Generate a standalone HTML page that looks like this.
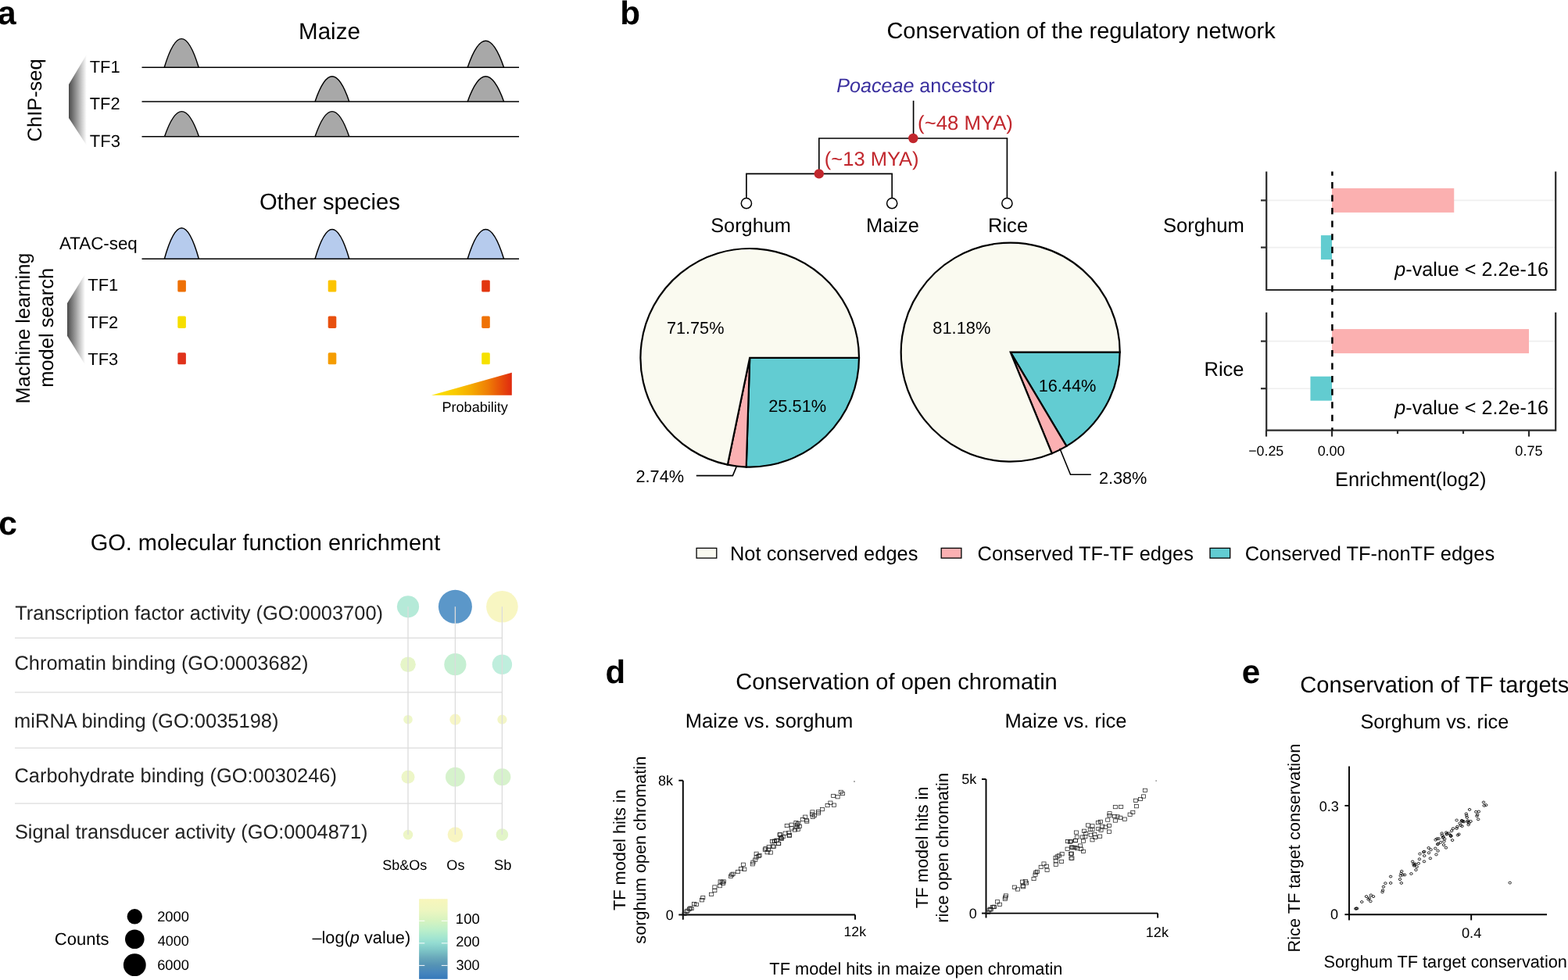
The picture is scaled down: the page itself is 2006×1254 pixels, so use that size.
<!DOCTYPE html>
<html><head><meta charset="utf-8"><title>Figure</title>
<style>html,body{margin:0;padding:0;background:#fff;}svg{display:block;}text{font-family:'Liberation Sans', Arial, Helvetica, sans-serif;text-rendering:geometricPrecision;}</style>
</head><body>
<svg width="2006" height="1254" viewBox="0 0 2006 1254" font-family="'Liberation Sans', Arial, Helvetica, sans-serif">
<rect width="2006" height="1254" fill="#fff"/>
<defs>
<linearGradient id="wedge" x1="0" y1="0" x2="1" y2="0">
<stop offset="0" stop-color="#4a4a4a"/><stop offset="0.45" stop-color="#9a9a9a"/><stop offset="1" stop-color="#ffffff"/>
</linearGradient>
<linearGradient id="prob" x1="0" y1="0" x2="1" y2="0"><stop offset="0" stop-color="#fbe600"/><stop offset="0.3" stop-color="#f9c900"/><stop offset="0.5" stop-color="#f5aa00"/><stop offset="0.7" stop-color="#ef7e05"/><stop offset="0.85" stop-color="#e85309"/><stop offset="1" stop-color="#e02a10"/></linearGradient>
<linearGradient id="cbar" x1="0" y1="0" x2="0" y2="1"><stop offset="0.000" stop-color="#f8f6bb"/><stop offset="0.143" stop-color="#edf6c0"/><stop offset="0.270" stop-color="#d6f3c0"/><stop offset="0.387" stop-color="#bcefca"/><stop offset="0.485" stop-color="#a3e5d0"/><stop offset="0.543" stop-color="#95ddd2"/><stop offset="0.631" stop-color="#80c8c8"/><stop offset="0.729" stop-color="#6aaabb"/><stop offset="0.826" stop-color="#5593b5"/><stop offset="0.924" stop-color="#4585bd"/><stop offset="1.000" stop-color="#3478ba"/></linearGradient>
</defs>
<text x="-3.01" y="30.90" font-size="42.500"><tspan font-weight="bold">a</tspan></text>
<text x="382.09" y="49.90" font-size="29.543">Maize</text>
<path d="M210.20,86.30 Q232.20,12.90 254.20,86.30 Z" fill="#a8a8a8"/>
<path d="M210.20,86.30 Q232.20,12.90 254.20,86.30" fill="none" stroke="#000" stroke-width="1.45"/>
<path d="M598.20,86.30 Q621.40,18.30 644.60,86.30 Z" fill="#a8a8a8"/>
<path d="M598.20,86.30 Q621.40,18.30 644.60,86.30" fill="none" stroke="#000" stroke-width="1.45"/>
<path d="M403.05,129.90 Q424.90,65.70 446.75,129.90 Z" fill="#a8a8a8"/>
<path d="M403.05,129.90 Q424.90,65.70 446.75,129.90" fill="none" stroke="#000" stroke-width="1.45"/>
<path d="M598.20,129.90 Q621.40,65.70 644.60,129.90 Z" fill="#a8a8a8"/>
<path d="M598.20,129.90 Q621.40,65.70 644.60,129.90" fill="none" stroke="#000" stroke-width="1.45"/>
<path d="M210.50,174.80 Q232.50,110.40 254.50,174.80 Z" fill="#a8a8a8"/>
<path d="M210.50,174.80 Q232.50,110.40 254.50,174.80" fill="none" stroke="#000" stroke-width="1.45"/>
<path d="M403.05,174.80 Q424.90,110.40 446.75,174.80 Z" fill="#a8a8a8"/>
<path d="M403.05,174.80 Q424.90,110.40 446.75,174.80" fill="none" stroke="#000" stroke-width="1.45"/>
<line x1="181.50" y1="86.30" x2="664.00" y2="86.30" stroke="#000" stroke-width="1.5" />
<line x1="181.50" y1="129.90" x2="664.00" y2="129.90" stroke="#000" stroke-width="1.5" />
<line x1="181.50" y1="174.80" x2="664.00" y2="174.80" stroke="#000" stroke-width="1.5" />
<text x="114.76" y="92.60" font-size="21.900">TF1</text>
<text x="114.76" y="140.10" font-size="21.839">TF2</text>
<text x="114.76" y="187.80" font-size="22.013">TF3</text>
<path d="M110.8,69.8 L88,108 L88,151 L110.8,186 Z" fill="url(#wedge)"/>
<text x="53.30" y="181.29" font-size="25.409" transform="rotate(-90 53.30 181.29)">ChIP-seq</text>
<text x="331.93" y="267.90" font-size="29.173">Other species</text>
<path d="M210.35,331.30 Q232.35,252.30 254.35,331.30 Z" fill="#b6cbed"/>
<path d="M210.35,331.30 Q232.35,252.30 254.35,331.30" fill="none" stroke="#000" stroke-width="1.45"/>
<path d="M403.05,331.30 Q424.90,255.90 446.75,331.30 Z" fill="#b6cbed"/>
<path d="M403.05,331.30 Q424.90,255.90 446.75,331.30" fill="none" stroke="#000" stroke-width="1.45"/>
<path d="M598.20,331.30 Q621.40,255.90 644.60,331.30 Z" fill="#b6cbed"/>
<path d="M598.20,331.30 Q621.40,255.90 644.60,331.30" fill="none" stroke="#000" stroke-width="1.45"/>
<line x1="181.50" y1="331.30" x2="664.00" y2="331.30" stroke="#000" stroke-width="1.5" />
<text x="76.00" y="319.00" font-size="22.370">ATAC-seq</text>
<rect x="227.30" y="358.40" width="10.60" height="15.20" fill="#ee7005" rx="1.6"/>
<rect x="419.70" y="358.40" width="10.60" height="15.20" fill="#fcc400" rx="1.6"/>
<rect x="616.20" y="358.40" width="10.60" height="15.20" fill="#e2360f" rx="1.6"/>
<rect x="227.30" y="404.50" width="10.60" height="15.40" fill="#f6de00" rx="1.6"/>
<rect x="419.70" y="404.50" width="10.60" height="15.40" fill="#e8500e" rx="1.6"/>
<rect x="616.20" y="404.50" width="10.60" height="15.40" fill="#ef7206" rx="1.6"/>
<rect x="227.30" y="451.30" width="10.60" height="15.00" fill="#e0321a" rx="1.6"/>
<rect x="419.70" y="451.30" width="10.60" height="15.00" fill="#f59d00" rx="1.6"/>
<rect x="616.20" y="451.30" width="10.60" height="15.00" fill="#f6e100" rx="1.6"/>
<text x="112.36" y="372.30" font-size="21.900">TF1</text>
<text x="112.36" y="420.20" font-size="21.900">TF2</text>
<text x="112.36" y="466.80" font-size="21.900">TF3</text>
<path d="M108.9,350.8 L86,388 L86,429.8 L108.9,466.8 Z" fill="url(#wedge)"/>
<text x="38.10" y="516.38" font-size="25.329" transform="rotate(-90 38.10 516.38)">Machine learning</text>
<text x="68.20" y="495.79" font-size="25.492" transform="rotate(-90 68.20 495.79)">model search</text>
<path d="M551.9,505.8 L654.8,476.8 L654.8,505.8 Z" fill="url(#prob)"/>
<text x="565.38" y="526.60" font-size="18.123">Probability</text>
<text x="793.36" y="30.80" font-size="42.279"><tspan font-weight="bold">b</tspan></text>
<text x="1134.44" y="49.40" font-size="28.966">Conservation of the regulatory network</text>
<text x="1070.21" y="118.30" font-size="25.135" fill="#3a2f9e"><tspan font-style="italic">Poaceae</tspan> ancestor</text>
<line x1="1168.60" y1="128.80" x2="1168.60" y2="177.00" stroke="#000" stroke-width="1.65" />
<line x1="1047.80" y1="177.00" x2="1288.40" y2="177.00" stroke="#000" stroke-width="1.65" stroke-linecap="square"/>
<line x1="1047.80" y1="177.00" x2="1047.80" y2="222.40" stroke="#000" stroke-width="1.65" />
<line x1="954.90" y1="222.40" x2="1141.20" y2="222.40" stroke="#000" stroke-width="1.65" stroke-linecap="square"/>
<line x1="954.90" y1="222.40" x2="954.90" y2="253.50" stroke="#000" stroke-width="1.65" />
<line x1="1141.20" y1="222.40" x2="1141.20" y2="253.50" stroke="#000" stroke-width="1.65" />
<line x1="1288.40" y1="177.00" x2="1288.40" y2="253.50" stroke="#000" stroke-width="1.65" />
<circle cx="954.90" cy="260.20" r="6.60" fill="#fff" stroke="#000" stroke-width="1.5"/>
<circle cx="1141.20" cy="260.20" r="6.60" fill="#fff" stroke="#000" stroke-width="1.5"/>
<circle cx="1288.40" cy="260.20" r="6.60" fill="#fff" stroke="#000" stroke-width="1.5"/>
<circle cx="1168.30" cy="177.00" r="6.20" fill="#c1272d" />
<circle cx="1047.80" cy="222.40" r="6.20" fill="#c1272d" />
<text x="1174.09" y="166.30" font-size="25.765" fill="#c1272d">(~48 MYA)</text>
<text x="1054.80" y="212.30" font-size="25.527" fill="#c1272d">(~13 MYA)</text>
<text x="909.21" y="296.70" font-size="25.311">Sorghum</text>
<text x="1108.01" y="296.70" font-size="25.463">Maize</text>
<text x="1264.00" y="296.70" font-size="25.560">Rice</text>
<path d="M959.20,457.80 L1099.00,457.80 A139.8,139.8 0 0 1 954.72,597.53 Z" fill="#62ccd2" stroke="#000" stroke-width="2.2" stroke-linejoin="miter"/>
<path d="M959.20,457.80 L954.72,597.53 A139.8,139.8 0 0 1 930.85,594.70 Z" fill="#fbb0b2" stroke="#000" stroke-width="2.2" stroke-linejoin="miter"/>
<path d="M959.20,457.80 L930.85,594.70 A139.8,139.8 0 1 1 1099.00,457.80 Z" fill="#fafaf0" stroke="#000" stroke-width="2.2" stroke-linejoin="miter"/>
<path d="M1292.70,450.60 L1432.70,450.60 A140,140 0 0 1 1364.42,570.83 Z" fill="#62ccd2" stroke="#000" stroke-width="2.2" stroke-linejoin="miter"/>
<path d="M1292.70,450.60 L1364.42,570.83 A140,140 0 0 1 1345.71,580.18 Z" fill="#fbb0b2" stroke="#000" stroke-width="2.2" stroke-linejoin="miter"/>
<path d="M1292.70,450.60 L1345.71,580.18 A140,140 0 1 1 1432.70,450.60 Z" fill="#fafaf0" stroke="#000" stroke-width="2.2" stroke-linejoin="miter"/>
<text x="852.98" y="426.80" font-size="21.660">71.75%</text>
<text x="983.18" y="526.80" font-size="21.841">25.51%</text>
<text x="813.48" y="616.80" font-size="21.749">2.74%</text>
<polyline points="890.8,608.6 937.4,608.6 942.1,597.4" fill="none" stroke="#000" stroke-width="1.6"/>
<text x="1193.32" y="426.80" font-size="21.858">81.18%</text>
<text x="1328.64" y="501.30" font-size="21.762">16.44%</text>
<text x="1405.98" y="618.60" font-size="21.676">2.38%</text>
<polyline points="1355.8,573.7 1369.5,607.2 1395.8,607.2" fill="none" stroke="#000" stroke-width="1.6"/>
<line x1="1621.00" y1="256.40" x2="1990.00" y2="256.40" stroke="#efefef" stroke-width="1.6" />
<line x1="1621.00" y1="316.60" x2="1990.00" y2="316.60" stroke="#efefef" stroke-width="1.6" />
<rect x="1704.00" y="240.90" width="156.24" height="31.00" fill="#fbb0b0" />
<rect x="1689.89" y="301.10" width="14.11" height="31.00" fill="#62ccd0" />
<path d="M1620.2,219.5 L1620.2,371.0 L1990.2,371.0 L1990.2,219.5" fill="none" stroke="#2b2b2b" stroke-width="2.2"/>
<line x1="1613.00" y1="256.40" x2="1620.20" y2="256.40" stroke="#2b2b2b" stroke-width="2.2" />
<line x1="1613.00" y1="316.60" x2="1620.20" y2="316.60" stroke="#2b2b2b" stroke-width="2.2" />
<text x="1784.29" y="353.30" font-size="25.187"><tspan font-style="italic">p</tspan>-value &lt; 2.2e-16</text>
<line x1="1621.00" y1="436.60" x2="1990.00" y2="436.60" stroke="#efefef" stroke-width="1.6" />
<line x1="1621.00" y1="497.20" x2="1990.00" y2="497.20" stroke="#efefef" stroke-width="1.6" />
<rect x="1704.00" y="421.10" width="252.00" height="31.00" fill="#fbb0b0" />
<rect x="1676.45" y="481.70" width="27.55" height="31.00" fill="#62ccd0" />
<path d="M1620.2,399.8 L1620.2,550.6 L1990.2,550.6 L1990.2,399.8" fill="none" stroke="#2b2b2b" stroke-width="2.2"/>
<line x1="1613.00" y1="436.60" x2="1620.20" y2="436.60" stroke="#2b2b2b" stroke-width="2.2" />
<line x1="1613.00" y1="497.20" x2="1620.20" y2="497.20" stroke="#2b2b2b" stroke-width="2.2" />
<text x="1784.29" y="529.80" font-size="25.187"><tspan font-style="italic">p</tspan>-value &lt; 2.2e-16</text>
<line x1="1704.40" y1="219.50" x2="1704.40" y2="551.00" stroke="#000" stroke-width="2.5" stroke-dasharray="8.2,8.34" stroke-dashoffset="3.04"/>
<line x1="1620.00" y1="550.60" x2="1620.00" y2="558.60" stroke="#2b2b2b" stroke-width="2.2" />
<line x1="1704.00" y1="550.60" x2="1704.00" y2="558.60" stroke="#2b2b2b" stroke-width="2.2" />
<line x1="1788.00" y1="550.60" x2="1788.00" y2="555.10" stroke="#2b2b2b" stroke-width="2.2" />
<line x1="1872.00" y1="550.60" x2="1872.00" y2="555.10" stroke="#2b2b2b" stroke-width="2.2" />
<line x1="1956.00" y1="550.60" x2="1956.00" y2="558.60" stroke="#2b2b2b" stroke-width="2.2" />
<text x="1597.16" y="582.50" font-size="17.848">−0.25</text>
<text x="1685.64" y="582.50" font-size="17.988">0.00</text>
<text x="1938.33" y="582.50" font-size="18.138">0.75</text>
<text x="1708.01" y="621.80" font-size="25.413">Enrichment(log2)</text>
<text x="1488.00" y="296.50" font-size="25.587">Sorghum</text>
<text x="1540.52" y="480.70" font-size="25.500">Rice</text>
<rect x="891.10" y="701.40" width="25.70" height="12.70" fill="#fafaf0" stroke="#000" stroke-width="1.3"/>
<text x="934.01" y="717.20" font-size="25.458">Not conserved edges</text>
<rect x="1204.20" y="701.40" width="25.70" height="12.70" fill="#fbb0b2" stroke="#000" stroke-width="1.3"/>
<text x="1250.61" y="717.20" font-size="25.429">Conserved TF-TF edges</text>
<rect x="1548.00" y="701.40" width="25.70" height="12.70" fill="#62ccd2" stroke="#000" stroke-width="1.3"/>
<text x="1592.71" y="717.20" font-size="25.483">Conserved TF-nonTF edges</text>
<text x="-1.68" y="684.30" font-size="42.500"><tspan font-weight="bold">c</tspan></text>
<text x="115.64" y="703.70" font-size="28.972">GO. molecular function enrichment</text>
<line x1="19.00" y1="816.30" x2="642.40" y2="816.30" stroke="#dcdcdc" stroke-width="1.3" />
<line x1="19.00" y1="885.90" x2="642.40" y2="885.90" stroke="#dcdcdc" stroke-width="1.3" />
<line x1="19.00" y1="957.20" x2="642.40" y2="957.20" stroke="#dcdcdc" stroke-width="1.3" />
<line x1="19.00" y1="1028.10" x2="642.40" y2="1028.10" stroke="#dcdcdc" stroke-width="1.3" />
<text x="19.30" y="792.50" font-size="25.414" fill="#222">Transcription factor activity (GO:0003700)</text>
<text x="18.51" y="857.00" font-size="25.430" fill="#222">Chromatin binding (GO:0003682)</text>
<text x="18.11" y="930.80" font-size="25.473" fill="#222">miRNA binding (GO:0035198)</text>
<text x="18.51" y="1001.40" font-size="25.419" fill="#222">Carbohydrate binding (GO:0030246)</text>
<text x="18.91" y="1072.50" font-size="25.407" fill="#222">Signal transducer activity (GO:0004871)</text>
<circle cx="522.00" cy="776.30" r="14.10" fill="#b5ead8" />
<circle cx="582.40" cy="776.30" r="21.50" fill="#5b97c9" />
<circle cx="642.40" cy="776.30" r="20.30" fill="#f8f6c2" />
<circle cx="522.00" cy="850.20" r="9.80" fill="#e6f5c8" />
<circle cx="582.40" cy="850.20" r="14.10" fill="#c5efd2" />
<circle cx="642.40" cy="850.20" r="12.70" fill="#bfeedd" />
<circle cx="522.00" cy="920.70" r="5.80" fill="#eef7c8" />
<circle cx="582.40" cy="920.70" r="7.10" fill="#f7f6c6" />
<circle cx="642.40" cy="920.70" r="6.10" fill="#f3f6c6" />
<circle cx="522.00" cy="994.20" r="8.50" fill="#edf6c7" />
<circle cx="582.40" cy="994.20" r="12.40" fill="#d6f2cc" />
<circle cx="642.40" cy="994.20" r="11.00" fill="#d7f2cc" />
<circle cx="522.00" cy="1068.10" r="6.30" fill="#edf6c6" />
<circle cx="582.40" cy="1068.10" r="9.80" fill="#f8f5c2" />
<circle cx="642.40" cy="1068.10" r="7.80" fill="#e2f5c8" />
<line x1="522.00" y1="776.30" x2="522.00" y2="1068.10" stroke="#dcdcdc" stroke-width="1.3" />
<line x1="582.40" y1="776.30" x2="582.40" y2="1068.10" stroke="#dcdcdc" stroke-width="1.3" />
<line x1="642.40" y1="776.30" x2="642.40" y2="1068.10" stroke="#dcdcdc" stroke-width="1.3" />
<text x="489.24" y="1113.20" font-size="18.033">Sb&amp;Os</text>
<text x="571.35" y="1113.20" font-size="18.088">Os</text>
<text x="631.93" y="1113.20" font-size="18.326">Sb</text>
<text x="69.87" y="1209.30" font-size="21.972">Counts</text>
<circle cx="172.30" cy="1172.80" r="9.70" fill="#000" />
<text x="201.14" y="1179.40" font-size="18.301">2000</text>
<circle cx="172.30" cy="1201.80" r="12.30" fill="#000" />
<text x="201.72" y="1210.20" font-size="18.040">4000</text>
<circle cx="172.30" cy="1234.70" r="14.40" fill="#000" />
<text x="201.14" y="1241.30" font-size="18.301">6000</text>
<text x="399.40" y="1207.20" font-size="21.765">–log(<tspan font-style="italic">p</tspan> value)</text>
<rect x="536.10" y="1150.30" width="36.50" height="102.50" fill="url(#cbar)" />
<line x1="536.10" y1="1178.30" x2="543.30" y2="1178.30" stroke="#fff" stroke-width="1" />
<line x1="564.80" y1="1178.30" x2="572.60" y2="1178.30" stroke="#fff" stroke-width="1" />
<line x1="536.10" y1="1206.90" x2="543.30" y2="1206.90" stroke="#fff" stroke-width="1" />
<line x1="564.80" y1="1206.90" x2="572.60" y2="1206.90" stroke="#fff" stroke-width="1" />
<line x1="536.10" y1="1235.40" x2="543.30" y2="1235.40" stroke="#fff" stroke-width="1" />
<line x1="564.80" y1="1235.40" x2="572.60" y2="1235.40" stroke="#fff" stroke-width="1" />
<text x="582.84" y="1181.50" font-size="18.532">100</text>
<text x="583.14" y="1211.40" font-size="18.351">200</text>
<text x="583.43" y="1241.30" font-size="18.173">300</text>
<text x="774.39" y="873.80" font-size="41.891"><tspan font-weight="bold">d</tspan></text>
<text x="941.24" y="881.60" font-size="29.044">Conservation of open chromatin</text>
<text x="876.80" y="931.40" font-size="25.576">Maize vs. sorghum</text>
<text x="1285.50" y="931.40" font-size="25.544">Maize vs. rice</text>
<path d="M873.8,998.7 L873.8,1170.5 L1094,1170.5" fill="none" stroke="#000" stroke-width="1.9"/>
<line x1="868.30" y1="998.70" x2="873.80" y2="998.70" stroke="#000" stroke-width="1.9" />
<line x1="868.30" y1="1170.50" x2="873.80" y2="1170.50" stroke="#000" stroke-width="1.9" />
<line x1="873.80" y1="1170.50" x2="873.80" y2="1176.80" stroke="#000" stroke-width="1.9" />
<line x1="1094.00" y1="1170.50" x2="1094.00" y2="1176.80" stroke="#000" stroke-width="1.9" />
<text x="842.11" y="1004.50" font-size="18.000">8k</text>
<text x="851.64" y="1176.80" font-size="18.000">0</text>
<text x="1079.49" y="1197.90" font-size="17.695">12k</text>
<text x="799.70" y="1165.04" font-size="21.771" transform="rotate(-90 799.70 1165.04)">TF model hits in</text>
<text x="825.90" y="1207.64" font-size="21.702" transform="rotate(-90 825.90 1207.64)">sorghum open chromatin</text>
<path d="M1261.5,997 L1261.5,1168.6 L1481.1,1168.6" fill="none" stroke="#000" stroke-width="1.9"/>
<line x1="1256.00" y1="997.00" x2="1261.50" y2="997.00" stroke="#000" stroke-width="1.9" />
<line x1="1256.00" y1="1168.60" x2="1261.50" y2="1168.60" stroke="#000" stroke-width="1.9" />
<line x1="1261.50" y1="1168.60" x2="1261.50" y2="1174.50" stroke="#000" stroke-width="1.9" />
<line x1="1481.10" y1="1168.60" x2="1481.10" y2="1174.50" stroke="#000" stroke-width="1.9" />
<text x="1230.21" y="1002.90" font-size="18.000">5k</text>
<text x="1239.64" y="1175.20" font-size="18.000">0</text>
<text x="1465.87" y="1198.60" font-size="18.014">12k</text>
<text x="1186.80" y="1162.14" font-size="21.885" transform="rotate(-90 1186.80 1162.14)">TF model hits in</text>
<text x="1212.80" y="1180.77" font-size="21.850" transform="rotate(-90 1212.80 1180.77)">rice open chromatin</text>
<text x="984.36" y="1247.20" font-size="21.774">TF model hits in maize open chromatin</text>
<rect x="873.03" y="1167.33" width="5.10" height="4.30" fill="none" stroke="#222" stroke-width="0.75"/>
<rect x="875.82" y="1164.12" width="5.10" height="4.30" fill="none" stroke="#222" stroke-width="0.75"/>
<rect x="877.21" y="1163.15" width="5.10" height="4.30" fill="none" stroke="#222" stroke-width="0.75"/>
<rect x="879.31" y="1161.05" width="5.10" height="4.30" fill="none" stroke="#222" stroke-width="0.75"/>
<rect x="880.70" y="1159.94" width="5.10" height="4.30" fill="none" stroke="#222" stroke-width="0.75"/>
<rect x="882.10" y="1160.36" width="5.10" height="4.30" fill="none" stroke="#222" stroke-width="0.75"/>
<rect x="885.58" y="1154.36" width="5.10" height="4.30" fill="none" stroke="#222" stroke-width="0.75"/>
<rect x="888.37" y="1155.19" width="5.10" height="4.30" fill="none" stroke="#222" stroke-width="0.75"/>
<rect x="895.35" y="1149.61" width="5.10" height="4.30" fill="none" stroke="#222" stroke-width="0.75"/>
<rect x="896.74" y="1146.41" width="5.10" height="4.30" fill="none" stroke="#222" stroke-width="0.75"/>
<rect x="907.62" y="1142.22" width="5.10" height="4.30" fill="none" stroke="#222" stroke-width="0.75"/>
<rect x="911.81" y="1137.34" width="5.10" height="4.30" fill="none" stroke="#222" stroke-width="0.75"/>
<rect x="911.81" y="1132.88" width="5.10" height="4.30" fill="none" stroke="#222" stroke-width="0.75"/>
<rect x="918.36" y="1131.48" width="5.10" height="4.30" fill="none" stroke="#222" stroke-width="0.75"/>
<rect x="919.06" y="1125.90" width="5.10" height="4.30" fill="none" stroke="#222" stroke-width="0.75"/>
<rect x="921.15" y="1126.46" width="5.10" height="4.30" fill="none" stroke="#222" stroke-width="0.75"/>
<rect x="923.25" y="1125.90" width="5.10" height="4.30" fill="none" stroke="#222" stroke-width="0.75"/>
<rect x="922.55" y="1128.27" width="5.10" height="4.30" fill="none" stroke="#222" stroke-width="0.75"/>
<rect x="932.31" y="1119.21" width="5.10" height="4.30" fill="none" stroke="#222" stroke-width="0.75"/>
<rect x="933.71" y="1117.11" width="5.10" height="4.30" fill="none" stroke="#222" stroke-width="0.75"/>
<rect x="935.10" y="1116.14" width="5.10" height="4.30" fill="none" stroke="#222" stroke-width="0.75"/>
<rect x="941.38" y="1113.35" width="5.10" height="4.30" fill="none" stroke="#222" stroke-width="0.75"/>
<rect x="945.56" y="1109.44" width="5.10" height="4.30" fill="none" stroke="#222" stroke-width="0.75"/>
<rect x="949.75" y="1110.14" width="5.10" height="4.30" fill="none" stroke="#222" stroke-width="0.75"/>
<rect x="948.35" y="1104.14" width="5.10" height="4.30" fill="none" stroke="#222" stroke-width="0.75"/>
<rect x="960.21" y="1103.58" width="5.10" height="4.30" fill="none" stroke="#222" stroke-width="0.75"/>
<rect x="960.91" y="1101.07" width="5.10" height="4.30" fill="none" stroke="#222" stroke-width="0.75"/>
<rect x="963.70" y="1098.00" width="5.10" height="4.30" fill="none" stroke="#222" stroke-width="0.75"/>
<rect x="965.09" y="1090.19" width="5.10" height="4.30" fill="none" stroke="#222" stroke-width="0.75"/>
<rect x="965.09" y="1094.80" width="5.10" height="4.30" fill="none" stroke="#222" stroke-width="0.75"/>
<rect x="967.88" y="1093.40" width="5.10" height="4.30" fill="none" stroke="#222" stroke-width="0.75"/>
<rect x="969.00" y="1092.42" width="5.10" height="4.30" fill="none" stroke="#222" stroke-width="0.75"/>
<rect x="976.25" y="1085.03" width="5.10" height="4.30" fill="none" stroke="#222" stroke-width="0.75"/>
<rect x="976.95" y="1083.64" width="5.10" height="4.30" fill="none" stroke="#222" stroke-width="0.75"/>
<rect x="979.04" y="1088.52" width="5.10" height="4.30" fill="none" stroke="#222" stroke-width="0.75"/>
<rect x="983.23" y="1088.80" width="5.10" height="4.30" fill="none" stroke="#222" stroke-width="0.75"/>
<rect x="980.44" y="1085.03" width="5.10" height="4.30" fill="none" stroke="#222" stroke-width="0.75"/>
<rect x="981.13" y="1081.54" width="5.10" height="4.30" fill="none" stroke="#222" stroke-width="0.75"/>
<rect x="986.02" y="1080.85" width="5.10" height="4.30" fill="none" stroke="#222" stroke-width="0.75"/>
<rect x="985.32" y="1074.57" width="5.10" height="4.30" fill="none" stroke="#222" stroke-width="0.75"/>
<rect x="988.11" y="1074.29" width="5.10" height="4.30" fill="none" stroke="#222" stroke-width="0.75"/>
<rect x="991.60" y="1073.17" width="5.10" height="4.30" fill="none" stroke="#222" stroke-width="0.75"/>
<rect x="993.69" y="1077.36" width="5.10" height="4.30" fill="none" stroke="#222" stroke-width="0.75"/>
<rect x="995.08" y="1065.92" width="5.10" height="4.30" fill="none" stroke="#222" stroke-width="0.75"/>
<rect x="996.48" y="1070.38" width="5.10" height="4.30" fill="none" stroke="#222" stroke-width="0.75"/>
<rect x="987.45" y="1081.17" width="5.10" height="4.30" fill="none" stroke="#222" stroke-width="0.75"/>
<rect x="988.29" y="1074.06" width="5.10" height="4.30" fill="none" stroke="#222" stroke-width="0.75"/>
<rect x="990.80" y="1073.22" width="5.10" height="4.30" fill="none" stroke="#222" stroke-width="0.75"/>
<rect x="993.31" y="1077.40" width="5.10" height="4.30" fill="none" stroke="#222" stroke-width="0.75"/>
<rect x="995.40" y="1065.68" width="5.10" height="4.30" fill="none" stroke="#222" stroke-width="0.75"/>
<rect x="996.66" y="1069.45" width="5.10" height="4.30" fill="none" stroke="#222" stroke-width="0.75"/>
<rect x="997.50" y="1071.13" width="5.10" height="4.30" fill="none" stroke="#222" stroke-width="0.75"/>
<rect x="999.17" y="1068.61" width="5.10" height="4.30" fill="none" stroke="#222" stroke-width="0.75"/>
<rect x="1002.10" y="1064.01" width="5.10" height="4.30" fill="none" stroke="#222" stroke-width="0.75"/>
<rect x="1006.70" y="1063.59" width="5.10" height="4.30" fill="none" stroke="#222" stroke-width="0.75"/>
<rect x="1007.12" y="1067.36" width="5.10" height="4.30" fill="none" stroke="#222" stroke-width="0.75"/>
<rect x="1007.54" y="1066.52" width="5.10" height="4.30" fill="none" stroke="#222" stroke-width="0.75"/>
<rect x="1004.19" y="1054.38" width="5.10" height="4.30" fill="none" stroke="#222" stroke-width="0.75"/>
<rect x="1010.05" y="1053.13" width="5.10" height="4.30" fill="none" stroke="#222" stroke-width="0.75"/>
<rect x="1010.47" y="1057.73" width="5.10" height="4.30" fill="none" stroke="#222" stroke-width="0.75"/>
<rect x="1014.24" y="1059.82" width="5.10" height="4.30" fill="none" stroke="#222" stroke-width="0.75"/>
<rect x="1015.91" y="1050.61" width="5.10" height="4.30" fill="none" stroke="#222" stroke-width="0.75"/>
<rect x="1016.75" y="1056.47" width="5.10" height="4.30" fill="none" stroke="#222" stroke-width="0.75"/>
<rect x="1017.59" y="1053.13" width="5.10" height="4.30" fill="none" stroke="#222" stroke-width="0.75"/>
<rect x="1018.84" y="1051.45" width="5.10" height="4.30" fill="none" stroke="#222" stroke-width="0.75"/>
<rect x="1020.52" y="1055.22" width="5.10" height="4.30" fill="none" stroke="#222" stroke-width="0.75"/>
<rect x="1018.43" y="1058.99" width="5.10" height="4.30" fill="none" stroke="#222" stroke-width="0.75"/>
<rect x="1024.29" y="1046.43" width="5.10" height="4.30" fill="none" stroke="#222" stroke-width="0.75"/>
<rect x="1027.63" y="1043.08" width="5.10" height="4.30" fill="none" stroke="#222" stroke-width="0.75"/>
<rect x="1029.31" y="1047.27" width="5.10" height="4.30" fill="none" stroke="#222" stroke-width="0.75"/>
<rect x="1029.73" y="1048.94" width="5.10" height="4.30" fill="none" stroke="#222" stroke-width="0.75"/>
<rect x="1036.84" y="1036.80" width="5.10" height="4.30" fill="none" stroke="#222" stroke-width="0.75"/>
<rect x="1036.42" y="1039.73" width="5.10" height="4.30" fill="none" stroke="#222" stroke-width="0.75"/>
<rect x="1037.26" y="1043.08" width="5.10" height="4.30" fill="none" stroke="#222" stroke-width="0.75"/>
<rect x="1039.35" y="1041.41" width="5.10" height="4.30" fill="none" stroke="#222" stroke-width="0.75"/>
<rect x="1044.38" y="1036.38" width="5.10" height="4.30" fill="none" stroke="#222" stroke-width="0.75"/>
<rect x="1044.38" y="1038.48" width="5.10" height="4.30" fill="none" stroke="#222" stroke-width="0.75"/>
<rect x="1049.40" y="1033.45" width="5.10" height="4.30" fill="none" stroke="#222" stroke-width="0.75"/>
<rect x="1056.10" y="1028.43" width="5.10" height="4.30" fill="none" stroke="#222" stroke-width="0.75"/>
<rect x="1059.87" y="1025.08" width="5.10" height="4.30" fill="none" stroke="#222" stroke-width="0.75"/>
<rect x="1064.47" y="1028.01" width="5.10" height="4.30" fill="none" stroke="#222" stroke-width="0.75"/>
<rect x="1063.63" y="1016.29" width="5.10" height="4.30" fill="none" stroke="#222" stroke-width="0.75"/>
<rect x="1069.07" y="1017.55" width="5.10" height="4.30" fill="none" stroke="#222" stroke-width="0.75"/>
<rect x="1073.26" y="1011.27" width="5.10" height="4.30" fill="none" stroke="#222" stroke-width="0.75"/>
<rect x="1075.35" y="1013.36" width="5.10" height="4.30" fill="none" stroke="#222" stroke-width="0.75"/>
<rect x="1261.37" y="1165.38" width="5.10" height="4.30" fill="none" stroke="#222" stroke-width="0.75"/>
<rect x="1262.98" y="1162.69" width="5.10" height="4.30" fill="none" stroke="#222" stroke-width="0.75"/>
<rect x="1264.06" y="1161.07" width="5.10" height="4.30" fill="none" stroke="#222" stroke-width="0.75"/>
<rect x="1265.14" y="1161.61" width="5.10" height="4.30" fill="none" stroke="#222" stroke-width="0.75"/>
<rect x="1267.29" y="1158.38" width="5.10" height="4.30" fill="none" stroke="#222" stroke-width="0.75"/>
<rect x="1268.90" y="1158.38" width="5.10" height="4.30" fill="none" stroke="#222" stroke-width="0.75"/>
<rect x="1269.44" y="1158.17" width="5.10" height="4.30" fill="none" stroke="#222" stroke-width="0.75"/>
<rect x="1273.53" y="1151.71" width="5.10" height="4.30" fill="none" stroke="#222" stroke-width="0.75"/>
<rect x="1276.44" y="1155.16" width="5.10" height="4.30" fill="none" stroke="#222" stroke-width="0.75"/>
<rect x="1283.22" y="1148.16" width="5.10" height="4.30" fill="none" stroke="#222" stroke-width="0.75"/>
<rect x="1283.65" y="1146.01" width="5.10" height="4.30" fill="none" stroke="#222" stroke-width="0.75"/>
<rect x="1284.51" y="1143.86" width="5.10" height="4.30" fill="none" stroke="#222" stroke-width="0.75"/>
<rect x="1295.27" y="1133.09" width="5.10" height="4.30" fill="none" stroke="#222" stroke-width="0.75"/>
<rect x="1299.36" y="1135.78" width="5.10" height="4.30" fill="none" stroke="#222" stroke-width="0.75"/>
<rect x="1306.03" y="1131.48" width="5.10" height="4.30" fill="none" stroke="#222" stroke-width="0.75"/>
<rect x="1306.57" y="1132.56" width="5.10" height="4.30" fill="none" stroke="#222" stroke-width="0.75"/>
<rect x="1305.49" y="1126.10" width="5.10" height="4.30" fill="none" stroke="#222" stroke-width="0.75"/>
<rect x="1309.26" y="1125.56" width="5.10" height="4.30" fill="none" stroke="#222" stroke-width="0.75"/>
<rect x="1310.55" y="1127.71" width="5.10" height="4.30" fill="none" stroke="#222" stroke-width="0.75"/>
<rect x="1320.02" y="1122.33" width="5.10" height="4.30" fill="none" stroke="#222" stroke-width="0.75"/>
<rect x="1321.96" y="1116.95" width="5.10" height="4.30" fill="none" stroke="#222" stroke-width="0.75"/>
<rect x="1322.71" y="1114.26" width="5.10" height="4.30" fill="none" stroke="#222" stroke-width="0.75"/>
<rect x="1324.33" y="1113.18" width="5.10" height="4.30" fill="none" stroke="#222" stroke-width="0.75"/>
<rect x="1329.17" y="1107.26" width="5.10" height="4.30" fill="none" stroke="#222" stroke-width="0.75"/>
<rect x="1332.94" y="1102.96" width="5.10" height="4.30" fill="none" stroke="#222" stroke-width="0.75"/>
<rect x="1336.38" y="1106.19" width="5.10" height="4.30" fill="none" stroke="#222" stroke-width="0.75"/>
<rect x="1337.03" y="1111.25" width="5.10" height="4.30" fill="none" stroke="#222" stroke-width="0.75"/>
<rect x="1348.00" y="1095.43" width="5.10" height="4.30" fill="none" stroke="#222" stroke-width="0.75"/>
<rect x="1348.22" y="1099.41" width="5.10" height="4.30" fill="none" stroke="#222" stroke-width="0.75"/>
<rect x="1348.22" y="1104.04" width="5.10" height="4.30" fill="none" stroke="#222" stroke-width="0.75"/>
<rect x="1350.16" y="1093.81" width="5.10" height="4.30" fill="none" stroke="#222" stroke-width="0.75"/>
<rect x="1352.31" y="1092.74" width="5.10" height="4.30" fill="none" stroke="#222" stroke-width="0.75"/>
<rect x="1355.54" y="1100.27" width="5.10" height="4.30" fill="none" stroke="#222" stroke-width="0.75"/>
<rect x="1356.07" y="1090.58" width="5.10" height="4.30" fill="none" stroke="#222" stroke-width="0.75"/>
<rect x="1363.61" y="1074.44" width="5.10" height="4.30" fill="none" stroke="#222" stroke-width="0.75"/>
<rect x="1366.30" y="1074.98" width="5.10" height="4.30" fill="none" stroke="#222" stroke-width="0.75"/>
<rect x="1363.07" y="1084.13" width="5.10" height="4.30" fill="none" stroke="#222" stroke-width="0.75"/>
<rect x="1367.37" y="1090.37" width="5.10" height="4.30" fill="none" stroke="#222" stroke-width="0.75"/>
<rect x="1367.91" y="1096.18" width="5.10" height="4.30" fill="none" stroke="#222" stroke-width="0.75"/>
<rect x="1368.45" y="1081.97" width="5.10" height="4.30" fill="none" stroke="#222" stroke-width="0.75"/>
<rect x="1371.14" y="1082.51" width="5.10" height="4.30" fill="none" stroke="#222" stroke-width="0.75"/>
<rect x="1373.29" y="1073.36" width="5.10" height="4.30" fill="none" stroke="#222" stroke-width="0.75"/>
<rect x="1368.37" y="1090.03" width="5.10" height="4.30" fill="none" stroke="#222" stroke-width="0.75"/>
<rect x="1368.83" y="1095.99" width="5.10" height="4.30" fill="none" stroke="#222" stroke-width="0.75"/>
<rect x="1367.45" y="1074.44" width="5.10" height="4.30" fill="none" stroke="#222" stroke-width="0.75"/>
<rect x="1369.28" y="1082.23" width="5.10" height="4.30" fill="none" stroke="#222" stroke-width="0.75"/>
<rect x="1373.41" y="1073.52" width="5.10" height="4.30" fill="none" stroke="#222" stroke-width="0.75"/>
<rect x="1374.33" y="1062.98" width="5.10" height="4.30" fill="none" stroke="#222" stroke-width="0.75"/>
<rect x="1375.24" y="1068.94" width="5.10" height="4.30" fill="none" stroke="#222" stroke-width="0.75"/>
<rect x="1372.95" y="1082.23" width="5.10" height="4.30" fill="none" stroke="#222" stroke-width="0.75"/>
<rect x="1375.70" y="1083.61" width="5.10" height="4.30" fill="none" stroke="#222" stroke-width="0.75"/>
<rect x="1379.37" y="1079.94" width="5.10" height="4.30" fill="none" stroke="#222" stroke-width="0.75"/>
<rect x="1380.28" y="1084.07" width="5.10" height="4.30" fill="none" stroke="#222" stroke-width="0.75"/>
<rect x="1382.58" y="1068.94" width="5.10" height="4.30" fill="none" stroke="#222" stroke-width="0.75"/>
<rect x="1383.49" y="1087.28" width="5.10" height="4.30" fill="none" stroke="#222" stroke-width="0.75"/>
<rect x="1383.49" y="1073.98" width="5.10" height="4.30" fill="none" stroke="#222" stroke-width="0.75"/>
<rect x="1384.41" y="1061.15" width="5.10" height="4.30" fill="none" stroke="#222" stroke-width="0.75"/>
<rect x="1385.79" y="1068.48" width="5.10" height="4.30" fill="none" stroke="#222" stroke-width="0.75"/>
<rect x="1386.70" y="1064.36" width="5.10" height="4.30" fill="none" stroke="#222" stroke-width="0.75"/>
<rect x="1389.45" y="1053.81" width="5.10" height="4.30" fill="none" stroke="#222" stroke-width="0.75"/>
<rect x="1392.20" y="1059.31" width="5.10" height="4.30" fill="none" stroke="#222" stroke-width="0.75"/>
<rect x="1393.12" y="1066.19" width="5.10" height="4.30" fill="none" stroke="#222" stroke-width="0.75"/>
<rect x="1394.95" y="1054.73" width="5.10" height="4.30" fill="none" stroke="#222" stroke-width="0.75"/>
<rect x="1394.95" y="1059.31" width="5.10" height="4.30" fill="none" stroke="#222" stroke-width="0.75"/>
<rect x="1394.95" y="1072.61" width="5.10" height="4.30" fill="none" stroke="#222" stroke-width="0.75"/>
<rect x="1397.70" y="1065.27" width="5.10" height="4.30" fill="none" stroke="#222" stroke-width="0.75"/>
<rect x="1398.62" y="1069.40" width="5.10" height="4.30" fill="none" stroke="#222" stroke-width="0.75"/>
<rect x="1402.29" y="1050.61" width="5.10" height="4.30" fill="none" stroke="#222" stroke-width="0.75"/>
<rect x="1404.58" y="1068.02" width="5.10" height="4.30" fill="none" stroke="#222" stroke-width="0.75"/>
<rect x="1405.50" y="1049.23" width="5.10" height="4.30" fill="none" stroke="#222" stroke-width="0.75"/>
<rect x="1402.75" y="1058.40" width="5.10" height="4.30" fill="none" stroke="#222" stroke-width="0.75"/>
<rect x="1405.95" y="1060.23" width="5.10" height="4.30" fill="none" stroke="#222" stroke-width="0.75"/>
<rect x="1407.79" y="1055.19" width="5.10" height="4.30" fill="none" stroke="#222" stroke-width="0.75"/>
<rect x="1411.91" y="1056.11" width="5.10" height="4.30" fill="none" stroke="#222" stroke-width="0.75"/>
<rect x="1414.66" y="1046.94" width="5.10" height="4.30" fill="none" stroke="#222" stroke-width="0.75"/>
<rect x="1416.50" y="1054.27" width="5.10" height="4.30" fill="none" stroke="#222" stroke-width="0.75"/>
<rect x="1416.50" y="1062.07" width="5.10" height="4.30" fill="none" stroke="#222" stroke-width="0.75"/>
<rect x="1416.95" y="1038.69" width="5.10" height="4.30" fill="none" stroke="#222" stroke-width="0.75"/>
<rect x="1416.95" y="1041.44" width="5.10" height="4.30" fill="none" stroke="#222" stroke-width="0.75"/>
<rect x="1423.37" y="1042.35" width="5.10" height="4.30" fill="none" stroke="#222" stroke-width="0.75"/>
<rect x="1424.29" y="1030.44" width="5.10" height="4.30" fill="none" stroke="#222" stroke-width="0.75"/>
<rect x="1424.29" y="1047.86" width="5.10" height="4.30" fill="none" stroke="#222" stroke-width="0.75"/>
<rect x="1427.04" y="1042.81" width="5.10" height="4.30" fill="none" stroke="#222" stroke-width="0.75"/>
<rect x="1430.71" y="1044.19" width="5.10" height="4.30" fill="none" stroke="#222" stroke-width="0.75"/>
<rect x="1431.62" y="1030.25" width="5.10" height="4.30" fill="none" stroke="#222" stroke-width="0.75"/>
<rect x="1436.21" y="1046.02" width="5.10" height="4.30" fill="none" stroke="#222" stroke-width="0.75"/>
<rect x="1443.08" y="1040.06" width="5.10" height="4.30" fill="none" stroke="#222" stroke-width="0.75"/>
<rect x="1446.75" y="1037.31" width="5.10" height="4.30" fill="none" stroke="#222" stroke-width="0.75"/>
<rect x="1450.42" y="1022.19" width="5.10" height="4.30" fill="none" stroke="#222" stroke-width="0.75"/>
<rect x="1451.33" y="1029.52" width="5.10" height="4.30" fill="none" stroke="#222" stroke-width="0.75"/>
<rect x="1456.38" y="1020.35" width="5.10" height="4.30" fill="none" stroke="#222" stroke-width="0.75"/>
<rect x="1460.50" y="1016.87" width="5.10" height="4.30" fill="none" stroke="#222" stroke-width="0.75"/>
<rect x="1462.33" y="1009.17" width="5.10" height="4.30" fill="none" stroke="#222" stroke-width="0.75"/>
<circle cx="1093.00" cy="1000.00" r="0.90" fill="#888" />
<circle cx="1479.10" cy="999.10" r="0.90" fill="#888" />
<text x="1588.78" y="874.30" font-size="42.200"><tspan font-weight="bold">e</tspan></text>
<text x="1663.34" y="886.10" font-size="29.107">Conservation of TF targets</text>
<text x="1740.41" y="931.80" font-size="25.327">Sorghum vs. rice</text>
<path d="M1726,980.4 L1726,1170.2 L1979,1170.2" fill="none" stroke="#000" stroke-width="1.9"/>
<line x1="1720.40" y1="1030.90" x2="1726.00" y2="1030.90" stroke="#000" stroke-width="1.9" />
<line x1="1720.40" y1="1170.20" x2="1726.00" y2="1170.20" stroke="#000" stroke-width="1.9" />
<line x1="1726.00" y1="1170.20" x2="1726.00" y2="1177.50" stroke="#000" stroke-width="1.9" />
<line x1="1882.20" y1="1170.20" x2="1882.20" y2="1177.50" stroke="#000" stroke-width="1.9" />
<text x="1687.67" y="1037.50" font-size="18.100">0.3</text>
<text x="1701.98" y="1176.20" font-size="18.100">0</text>
<text x="1869.93" y="1199.80" font-size="18.291">0.4</text>
<text x="1693.62" y="1238.00" font-size="21.744">Sorghum TF target conservation</text>
<text x="1663.40" y="1218.50" font-size="21.756" transform="rotate(-90 1663.40 1218.50)">Rice TF target conservation</text>
<ellipse cx="1734.36" cy="1162.81" rx="1.75" ry="1.45" fill="none" stroke="#000" stroke-width="0.85"/>
<ellipse cx="1735.22" cy="1162.38" rx="1.75" ry="1.45" fill="none" stroke="#000" stroke-width="0.85"/>
<ellipse cx="1736.08" cy="1162.53" rx="1.75" ry="1.45" fill="none" stroke="#000" stroke-width="0.85"/>
<ellipse cx="1742.25" cy="1154.06" rx="1.75" ry="1.45" fill="none" stroke="#000" stroke-width="0.85"/>
<ellipse cx="1748.00" cy="1147.16" rx="1.75" ry="1.45" fill="none" stroke="#000" stroke-width="0.85"/>
<ellipse cx="1750.58" cy="1150.75" rx="1.75" ry="1.45" fill="none" stroke="#000" stroke-width="0.85"/>
<ellipse cx="1751.87" cy="1149.32" rx="1.75" ry="1.45" fill="none" stroke="#000" stroke-width="0.85"/>
<ellipse cx="1753.45" cy="1153.34" rx="1.75" ry="1.45" fill="none" stroke="#000" stroke-width="0.85"/>
<ellipse cx="1753.88" cy="1145.44" rx="1.75" ry="1.45" fill="none" stroke="#000" stroke-width="0.85"/>
<ellipse cx="1757.04" cy="1147.16" rx="1.75" ry="1.45" fill="none" stroke="#000" stroke-width="0.85"/>
<ellipse cx="1768.53" cy="1141.42" rx="1.75" ry="1.45" fill="none" stroke="#000" stroke-width="0.85"/>
<ellipse cx="1769.10" cy="1139.27" rx="1.75" ry="1.45" fill="none" stroke="#000" stroke-width="0.85"/>
<ellipse cx="1769.96" cy="1134.67" rx="1.75" ry="1.45" fill="none" stroke="#000" stroke-width="0.85"/>
<ellipse cx="1772.40" cy="1130.22" rx="1.75" ry="1.45" fill="none" stroke="#000" stroke-width="0.85"/>
<ellipse cx="1779.15" cy="1121.61" rx="1.75" ry="1.45" fill="none" stroke="#000" stroke-width="0.85"/>
<ellipse cx="1779.15" cy="1129.94" rx="1.75" ry="1.45" fill="none" stroke="#000" stroke-width="0.85"/>
<ellipse cx="1791.07" cy="1125.20" rx="1.75" ry="1.45" fill="none" stroke="#000" stroke-width="0.85"/>
<ellipse cx="1791.79" cy="1120.60" rx="1.75" ry="1.45" fill="none" stroke="#000" stroke-width="0.85"/>
<ellipse cx="1792.79" cy="1129.94" rx="1.75" ry="1.45" fill="none" stroke="#000" stroke-width="0.85"/>
<ellipse cx="1793.22" cy="1114.86" rx="1.75" ry="1.45" fill="none" stroke="#000" stroke-width="0.85"/>
<ellipse cx="1792.51" cy="1117.73" rx="1.75" ry="1.45" fill="none" stroke="#000" stroke-width="0.85"/>
<ellipse cx="1794.66" cy="1119.45" rx="1.75" ry="1.45" fill="none" stroke="#000" stroke-width="0.85"/>
<ellipse cx="1797.10" cy="1119.45" rx="1.75" ry="1.45" fill="none" stroke="#000" stroke-width="0.85"/>
<ellipse cx="1805.43" cy="1118.02" rx="1.75" ry="1.45" fill="none" stroke="#000" stroke-width="0.85"/>
<ellipse cx="1807.15" cy="1102.51" rx="1.75" ry="1.45" fill="none" stroke="#000" stroke-width="0.85"/>
<ellipse cx="1808.30" cy="1105.53" rx="1.75" ry="1.45" fill="none" stroke="#000" stroke-width="0.85"/>
<ellipse cx="1809.02" cy="1107.68" rx="1.75" ry="1.45" fill="none" stroke="#000" stroke-width="0.85"/>
<ellipse cx="1810.45" cy="1105.53" rx="1.75" ry="1.45" fill="none" stroke="#000" stroke-width="0.85"/>
<ellipse cx="1811.46" cy="1113.14" rx="1.75" ry="1.45" fill="none" stroke="#000" stroke-width="0.85"/>
<ellipse cx="1812.61" cy="1109.12" rx="1.75" ry="1.45" fill="none" stroke="#000" stroke-width="0.85"/>
<ellipse cx="1814.76" cy="1104.81" rx="1.75" ry="1.45" fill="none" stroke="#000" stroke-width="0.85"/>
<ellipse cx="1815.91" cy="1099.35" rx="1.75" ry="1.45" fill="none" stroke="#000" stroke-width="0.85"/>
<ellipse cx="1816.48" cy="1092.61" rx="1.75" ry="1.45" fill="none" stroke="#000" stroke-width="0.85"/>
<ellipse cx="1821.22" cy="1090.17" rx="1.75" ry="1.45" fill="none" stroke="#000" stroke-width="0.85"/>
<ellipse cx="1822.23" cy="1089.73" rx="1.75" ry="1.45" fill="none" stroke="#000" stroke-width="0.85"/>
<ellipse cx="1821.94" cy="1102.37" rx="1.75" ry="1.45" fill="none" stroke="#000" stroke-width="0.85"/>
<ellipse cx="1822.23" cy="1095.05" rx="1.75" ry="1.45" fill="none" stroke="#000" stroke-width="0.85"/>
<ellipse cx="1827.68" cy="1085.00" rx="1.75" ry="1.45" fill="none" stroke="#000" stroke-width="0.85"/>
<ellipse cx="1827.97" cy="1091.31" rx="1.75" ry="1.45" fill="none" stroke="#000" stroke-width="0.85"/>
<ellipse cx="1829.83" cy="1098.35" rx="1.75" ry="1.45" fill="none" stroke="#000" stroke-width="0.85"/>
<ellipse cx="1830.55" cy="1087.29" rx="1.75" ry="1.45" fill="none" stroke="#000" stroke-width="0.85"/>
<ellipse cx="1836.30" cy="1085.57" rx="1.75" ry="1.45" fill="none" stroke="#000" stroke-width="0.85"/>
<ellipse cx="1836.58" cy="1074.66" rx="1.75" ry="1.45" fill="none" stroke="#000" stroke-width="0.85"/>
<ellipse cx="1837.44" cy="1093.47" rx="1.75" ry="1.45" fill="none" stroke="#000" stroke-width="0.85"/>
<ellipse cx="1838.45" cy="1073.22" rx="1.75" ry="1.45" fill="none" stroke="#000" stroke-width="0.85"/>
<ellipse cx="1839.60" cy="1088.73" rx="1.75" ry="1.45" fill="none" stroke="#000" stroke-width="0.85"/>
<ellipse cx="1839.89" cy="1079.68" rx="1.75" ry="1.45" fill="none" stroke="#000" stroke-width="0.85"/>
<ellipse cx="1840.60" cy="1073.22" rx="1.75" ry="1.45" fill="none" stroke="#000" stroke-width="0.85"/>
<ellipse cx="1843.19" cy="1077.82" rx="1.75" ry="1.45" fill="none" stroke="#000" stroke-width="0.85"/>
<ellipse cx="1844.62" cy="1066.33" rx="1.75" ry="1.45" fill="none" stroke="#000" stroke-width="0.85"/>
<ellipse cx="1844.91" cy="1068.63" rx="1.75" ry="1.45" fill="none" stroke="#000" stroke-width="0.85"/>
<ellipse cx="1846.06" cy="1071.79" rx="1.75" ry="1.45" fill="none" stroke="#000" stroke-width="0.85"/>
<ellipse cx="1846.63" cy="1070.64" rx="1.75" ry="1.45" fill="none" stroke="#000" stroke-width="0.85"/>
<ellipse cx="1847.06" cy="1081.12" rx="1.75" ry="1.45" fill="none" stroke="#000" stroke-width="0.85"/>
<ellipse cx="1847.49" cy="1076.53" rx="1.75" ry="1.45" fill="none" stroke="#000" stroke-width="0.85"/>
<ellipse cx="1848.21" cy="1073.51" rx="1.75" ry="1.45" fill="none" stroke="#000" stroke-width="0.85"/>
<ellipse cx="1849.94" cy="1084.71" rx="1.75" ry="1.45" fill="none" stroke="#000" stroke-width="0.85"/>
<ellipse cx="1850.22" cy="1065.33" rx="1.75" ry="1.45" fill="none" stroke="#000" stroke-width="0.85"/>
<ellipse cx="1850.65" cy="1067.48" rx="1.75" ry="1.45" fill="none" stroke="#000" stroke-width="0.85"/>
<ellipse cx="1851.37" cy="1066.91" rx="1.75" ry="1.45" fill="none" stroke="#000" stroke-width="0.85"/>
<ellipse cx="1853.52" cy="1066.33" rx="1.75" ry="1.45" fill="none" stroke="#000" stroke-width="0.85"/>
<ellipse cx="1855.68" cy="1068.92" rx="1.75" ry="1.45" fill="none" stroke="#000" stroke-width="0.85"/>
<ellipse cx="1856.40" cy="1069.63" rx="1.75" ry="1.45" fill="none" stroke="#000" stroke-width="0.85"/>
<ellipse cx="1857.11" cy="1063.17" rx="1.75" ry="1.45" fill="none" stroke="#000" stroke-width="0.85"/>
<ellipse cx="1858.12" cy="1075.09" rx="1.75" ry="1.45" fill="none" stroke="#000" stroke-width="0.85"/>
<ellipse cx="1858.98" cy="1060.30" rx="1.75" ry="1.45" fill="none" stroke="#000" stroke-width="0.85"/>
<ellipse cx="1863.58" cy="1049.53" rx="1.75" ry="1.45" fill="none" stroke="#000" stroke-width="0.85"/>
<ellipse cx="1863.58" cy="1060.01" rx="1.75" ry="1.45" fill="none" stroke="#000" stroke-width="0.85"/>
<ellipse cx="1864.29" cy="1057.86" rx="1.75" ry="1.45" fill="none" stroke="#000" stroke-width="0.85"/>
<ellipse cx="1865.01" cy="1068.63" rx="1.75" ry="1.45" fill="none" stroke="#000" stroke-width="0.85"/>
<ellipse cx="1866.45" cy="1067.48" rx="1.75" ry="1.45" fill="none" stroke="#000" stroke-width="0.85"/>
<ellipse cx="1867.60" cy="1053.41" rx="1.75" ry="1.45" fill="none" stroke="#000" stroke-width="0.85"/>
<ellipse cx="1868.60" cy="1055.99" rx="1.75" ry="1.45" fill="none" stroke="#000" stroke-width="0.85"/>
<ellipse cx="1870.04" cy="1049.96" rx="1.75" ry="1.45" fill="none" stroke="#000" stroke-width="0.85"/>
<ellipse cx="1870.47" cy="1057.14" rx="1.75" ry="1.45" fill="none" stroke="#000" stroke-width="0.85"/>
<ellipse cx="1871.47" cy="1050.97" rx="1.75" ry="1.45" fill="none" stroke="#000" stroke-width="0.85"/>
<ellipse cx="1872.91" cy="1051.40" rx="1.75" ry="1.45" fill="none" stroke="#000" stroke-width="0.85"/>
<ellipse cx="1875.78" cy="1041.35" rx="1.75" ry="1.45" fill="none" stroke="#000" stroke-width="0.85"/>
<ellipse cx="1876.21" cy="1043.50" rx="1.75" ry="1.45" fill="none" stroke="#000" stroke-width="0.85"/>
<ellipse cx="1876.78" cy="1045.94" rx="1.75" ry="1.45" fill="none" stroke="#000" stroke-width="0.85"/>
<ellipse cx="1877.65" cy="1051.69" rx="1.75" ry="1.45" fill="none" stroke="#000" stroke-width="0.85"/>
<ellipse cx="1877.93" cy="1050.25" rx="1.75" ry="1.45" fill="none" stroke="#000" stroke-width="0.85"/>
<ellipse cx="1878.65" cy="1055.28" rx="1.75" ry="1.45" fill="none" stroke="#000" stroke-width="0.85"/>
<ellipse cx="1879.37" cy="1053.12" rx="1.75" ry="1.45" fill="none" stroke="#000" stroke-width="0.85"/>
<ellipse cx="1880.09" cy="1035.89" rx="1.75" ry="1.45" fill="none" stroke="#000" stroke-width="0.85"/>
<ellipse cx="1881.52" cy="1050.97" rx="1.75" ry="1.45" fill="none" stroke="#000" stroke-width="0.85"/>
<ellipse cx="1888.27" cy="1038.77" rx="1.75" ry="1.45" fill="none" stroke="#000" stroke-width="0.85"/>
<ellipse cx="1889.42" cy="1044.22" rx="1.75" ry="1.45" fill="none" stroke="#000" stroke-width="0.85"/>
<ellipse cx="1890.14" cy="1042.50" rx="1.75" ry="1.45" fill="none" stroke="#000" stroke-width="0.85"/>
<ellipse cx="1891.14" cy="1048.38" rx="1.75" ry="1.45" fill="none" stroke="#000" stroke-width="0.85"/>
<ellipse cx="1891.86" cy="1038.48" rx="1.75" ry="1.45" fill="none" stroke="#000" stroke-width="0.85"/>
<ellipse cx="1898.03" cy="1026.56" rx="1.75" ry="1.45" fill="none" stroke="#000" stroke-width="0.85"/>
<ellipse cx="1898.75" cy="1030.87" rx="1.75" ry="1.45" fill="none" stroke="#000" stroke-width="0.85"/>
<ellipse cx="1901.19" cy="1030.15" rx="1.75" ry="1.45" fill="none" stroke="#000" stroke-width="0.85"/>
<ellipse cx="1839.17" cy="1080.40" rx="1.75" ry="1.45" fill="none" stroke="#000" stroke-width="0.85"/>
<ellipse cx="1856.11" cy="1070.06" rx="1.75" ry="1.45" fill="none" stroke="#000" stroke-width="0.85"/>
<ellipse cx="1870.75" cy="1050.54" rx="1.75" ry="1.45" fill="none" stroke="#000" stroke-width="0.85"/>
<ellipse cx="1809.73" cy="1106.53" rx="1.75" ry="1.45" fill="none" stroke="#000" stroke-width="0.85"/>
<ellipse cx="1931.70" cy="1129.60" rx="1.75" ry="1.45" fill="none" stroke="#000" stroke-width="0.85"/>
</svg>
</body></html>
